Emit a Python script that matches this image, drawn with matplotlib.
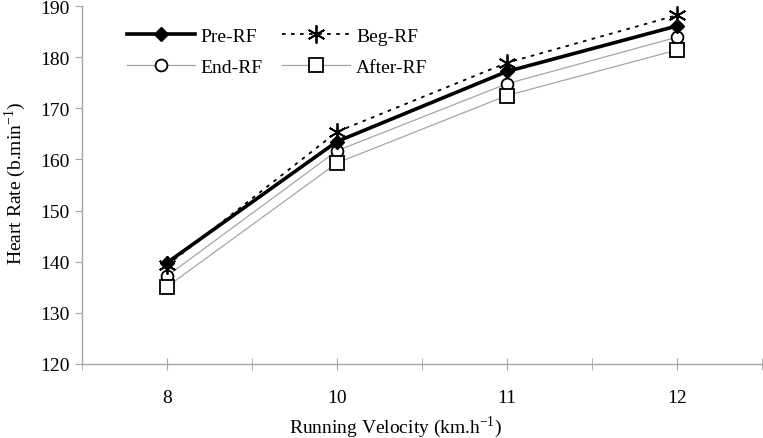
import matplotlib
matplotlib.use("Agg")
import matplotlib.pyplot as plt
from matplotlib.ticker import MultipleLocator, FixedLocator

# data
velocities = ["8", "10", "11", "12"]
pre_rf = [139.8, 163.5, 177.2, 186.1]
beg_rf = [139.3, 165.4, 178.9, 188.2]
end_rf = [137.2, 161.7, 174.8, 183.9]
after_rf = [135.1, 159.3, 172.5, 181.4]

plt.rcParams["font.family"] = ["Liberation Serif", "DejaVu Serif"]
plt.rcParams["mathtext.fontset"] = "custom"
plt.rcParams["mathtext.rm"] = "Liberation Serif"

fig = plt.figure(figsize=(7.63, 4.39), dpi=100)
ax = fig.add_axes([82 / 763, 1 - 365 / 439, 680 / 763, 358 / 439])

x = list(range(len(velocities)))
grey = "#a6a6a6"

l1, = ax.plot(x, pre_rf, color="black", lw=2.6, marker="D", ms=7.5,
              mfc="black", mec="black", label="Pre-RF", zorder=5)
l2, = ax.plot(x, beg_rf, color="black", lw=1.3, ls=(0, (2, 3)), marker=(6, 2, 0),
              ms=13, mec="black", mew=1.3, label="Beg-RF", zorder=4)
l3, = ax.plot(x, end_rf, color=grey, lw=0.9, marker="o", ms=8.5, mfc="white",
              mec="black", mew=1.3, label="End-RF", zorder=3)
l4, = ax.plot(x, after_rf, color=grey, lw=0.9, marker="s", ms=9.5, mfc="white",
              mec="black", mew=1.3, label="After-RF", zorder=3)

ax.set_xlim(-0.5, len(velocities) - 0.5)
ax.set_ylim(120, 190)
ax.yaxis.set_major_locator(MultipleLocator(10))
ax.set_xticks(x)
ax.set_xticklabels(velocities)
ax.xaxis.set_minor_locator(FixedLocator([i + 0.5 for i in range(-1, len(velocities))]))

for s in ["top", "right"]:
    ax.spines[s].set_visible(False)
for s in ["left", "bottom"]:
    ax.spines[s].set_color(grey)
    ax.spines[s].set_linewidth(1.0)

ax.tick_params(axis="y", direction="out", length=5, color=grey, labelsize=14, pad=4)
ax.tick_params(axis="x", which="both", direction="inout", length=8, color=grey,
               labelsize=14, pad=14)

fig.text(396 / 763, 1 - 433 / 439, r"Running Velocity (km.h$^{\mathregular{-1}}$)",
         ha="center", va="baseline", fontsize=14)
fig.text(15 / 763, 1 - 183 / 439, r"Heart Rate (b.min$^{\mathregular{-1}}$)",
         ha="center", va="center", rotation=90, fontsize=14)

# legend is row-major in the reference, matplotlib fills columns first
ax.legend([l1, l3, l2, l4], ["Pre-RF", "End-RF", "Beg-RF", "After-RF"],
          loc="upper left", bbox_to_anchor=(0.04, 0.99), ncol=2, frameon=False,
          fontsize=14, handlelength=3.5, handletextpad=0.3, columnspacing=1.0,
          labelspacing=0.7)

fig.savefig("out.png", dpi=100)
